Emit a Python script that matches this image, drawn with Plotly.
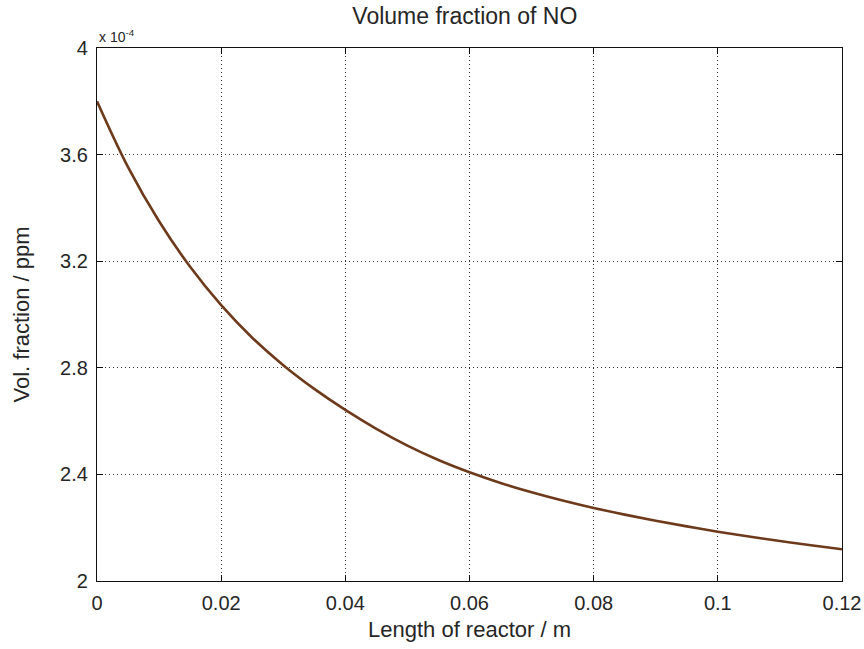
import plotly.graph_objects as go

# Axial position along the reactor (m)
length_m = [0.000, 0.005, 0.010, 0.015, 0.020, 0.025, 0.030, 0.035, 0.040,
            0.045, 0.050, 0.055, 0.060, 0.065, 0.070, 0.075, 0.080, 0.085,
            0.090, 0.095, 0.100, 0.105, 0.110, 0.115, 0.120]

# NO volume fraction, in units of 1e-4
no_fraction_e4 = [3.800, 3.553, 3.350, 3.179, 3.035, 2.913, 2.810, 2.721, 2.642,
                  2.571, 2.508, 2.454, 2.408, 2.368, 2.333, 2.302, 2.274, 2.249,
                  2.226, 2.205, 2.185, 2.167, 2.150, 2.134, 2.119]

x_ticks = [0, 0.02, 0.04, 0.06, 0.08, 0.1, 0.12]
x_tick_labels = ["0", "0.02", "0.04", "0.06", "0.08", "0.1", "0.12"]
y_ticks = [2.0, 2.4, 2.8, 3.2, 3.6, 4.0]
y_tick_labels = ["2", "2.4", "2.8", "3.2", "3.6", "4"]

FONT = "Liberation Sans, Arial, sans-serif"
TEXT = "#262626"

fig = go.Figure()
fig.add_trace(go.Scatter(
    x=length_m,
    y=no_fraction_e4,
    mode="lines",
    line=dict(color="#6e3a1c", width=2.6, shape="spline", smoothing=1.0),
    showlegend=False,
))

axis_common = dict(
    showline=True,
    linecolor="#111111",
    linewidth=1.3,
    mirror="ticks",
    ticks="inside",
    ticklen=6,
    tickwidth=1,
    tickcolor="#111111",
    showgrid=True,
    gridcolor="#333333",
    gridwidth=1,
    griddash="1px,3px",
    zeroline=False,
    automargin=False,
    tickfont=dict(family=FONT, size=20, color=TEXT),
)

fig.update_xaxes(
    range=[0, 0.12],
    tickvals=x_ticks,
    ticktext=x_tick_labels,
    ticklabelstandoff=4,
    title=dict(text="Length of reactor / m", standoff=8,
               font=dict(family=FONT, size=22, color=TEXT)),
    **axis_common,
)
fig.update_yaxes(
    range=[2.0, 4.0],
    tickvals=y_ticks,
    ticktext=y_tick_labels,
    ticklabelstandoff=4,
    title=dict(text="Vol. fraction / ppm", standoff=24,
               font=dict(family=FONT, size=22, color=TEXT)),
    **axis_common,
)

fig.add_annotation(
    x=0, y=1, xref="paper", yref="paper",
    xanchor="left", yanchor="bottom", yshift=1,
    text="x 10<sup>-4</sup>", showarrow=False,
    font=dict(family=FONT, size=14, color=TEXT),
)

fig.update_layout(
    width=864,
    height=649,
    margin=dict(l=97, r=22, t=48, b=68, autoexpand=False),
    paper_bgcolor="white",
    plot_bgcolor="white",
    title=dict(text="Volume fraction of NO", x=0.538, xanchor="center",
               y=0.976, yanchor="middle",
               font=dict(family=FONT, size=23, color=TEXT)),
)

fig.write_html("out.html")
